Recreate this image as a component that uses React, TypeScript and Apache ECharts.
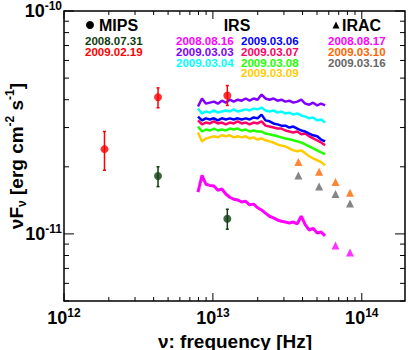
import React, { useEffect, useRef } from "react";
import * as echarts from "echarts";

// ---------- axis ranges ----------
const X_MIN = 1e12;
const X_MAX = 1.95e14;
const Y_MIN = 5e-12;
const Y_MAX = 1e-10;
const UNIT = 1e-11; // flux arrays below are in units of 1e-11 erg cm^-2 s^-1

// ---------- MIPS (frequency in Hz) ----------
const MIPS_FREQ_0731 = [4.28e12, 1.25e13];
const MIPS_FLUX_0731 = [1.82, 1.17];
const MIPS_LO_0731 = [1.63, 1.05];
const MIPS_HI_0731 = [2.0, 1.29];

const MIPS_FREQ_0219 = [1.87e12, 4.28e12, 1.25e13];
const MIPS_FLUX_0219 = [2.4, 4.1, 4.18];
const MIPS_LO_0219 = [1.93, 3.68, 3.77];
const MIPS_HI_0219 = [2.88, 4.52, 4.63];

// ---------- IRAC ----------
const IRAC_FREQ = [3.75e13, 5.17e13, 6.66e13, 8.33e13];
const IRAC_FREQ_0817 = [6.66e13, 8.33e13];
const IRAC_0817 = [0.887, 0.826];
const IRAC_0310 = [2.1, 1.9, 1.71, 1.53];
const IRAC_0316 = [1.83, 1.63, 1.51, 1.37];

// ---------- IRS spectra ----------
const IRS_FREQ = [
  7.94e12, 8.45e12, 8.98e12, 9.55e12, 1.016e13, 1.08e13, 1.148e13, 1.221e13, 1.298e13, 1.38e13,
  1.468e13, 1.561e13, 1.66e13, 1.765e13, 1.877e13, 1.995e13, 2.122e13, 2.256e13, 2.399e13, 2.551e13,
  2.712e13, 2.884e13, 3.067e13, 3.261e13, 3.467e13, 3.687e13, 3.92e13, 4.169e13, 4.433e13, 4.713e13,
  5.012e13, 5.329e13, 5.667e13,
];
const IRS_0816 = [1.54, 1.83, 1.67, 1.65, 1.64, 1.57, 1.59, 1.51, 1.46, 1.43, 1.42, 1.39, 1.4, 1.35, 1.36, 1.31, 1.28, 1.24, 1.2, 1.18, 1.155, 1.14, 1.13, 1.12, 1.13, 1.11, 1.2, 1.1, 1.04, 1.06, 1.01, 1.02, 0.98];
const IRS_0303 = [3.73, 4.05, 3.84, 3.88, 3.92, 3.84, 3.96, 3.88, 4.0, 3.92, 4.0, 3.96, 4.05, 3.96, 4.05, 4.0, 4.22, 4.05, 4.0, 4.05, 3.96, 4.0, 3.92, 3.96, 3.88, 3.92, 4.0, 3.84, 3.8, 3.88, 3.77, 3.84, 3.77];
const IRS_0304 = [3.65, 3.47, 3.54, 3.5, 3.58, 3.5, 3.54, 3.58, 3.54, 3.62, 3.54, 3.58, 3.62, 3.58, 3.65, 3.62, 3.69, 3.58, 3.54, 3.58, 3.5, 3.54, 3.47, 3.5, 3.43, 3.47, 3.4, 3.36, 3.3, 3.33, 3.23, 3.26, 3.16];
const IRS_0306 = [3.36, 3.23, 3.3, 3.26, 3.3, 3.23, 3.3, 3.26, 3.3, 3.26, 3.3, 3.26, 3.3, 3.26, 3.33, 3.3, 3.43, 3.23, 3.2, 3.13, 3.1, 3.06, 3.06, 3.0, 3.03, 2.97, 2.91, 2.88, 2.82, 2.77, 2.74, 2.65, 2.6];
const IRS_0307 = [3.23, 3.1, 3.16, 3.13, 3.2, 3.13, 3.16, 3.1, 3.16, 3.13, 3.2, 3.13, 3.16, 3.1, 3.16, 3.13, 3.2, 3.06, 3.03, 3.0, 2.97, 2.97, 2.91, 2.88, 2.85, 2.88, 2.8, 2.82, 2.74, 2.68, 2.63, 2.57, 2.5];
const IRS_0308 = [3.03, 2.88, 2.94, 2.91, 2.97, 2.91, 2.94, 2.91, 2.97, 2.94, 2.97, 2.91, 2.94, 2.88, 2.91, 2.88, 2.88, 2.82, 2.8, 2.77, 2.74, 2.71, 2.68, 2.66, 2.63, 2.6, 2.57, 2.52, 2.47, 2.42, 2.37, 2.32, 2.28];
const IRS_0309 = [2.85, 2.6, 2.68, 2.71, 2.74, 2.71, 2.77, 2.74, 2.77, 2.71, 2.74, 2.71, 2.74, 2.68, 2.71, 2.65, 2.68, 2.63, 2.6, 2.57, 2.52, 2.49, 2.47, 2.42, 2.37, 2.35, 2.37, 2.3, 2.23, 2.18, 2.14, 2.1, 2.03];

// ---------- colours ----------
const C_DKGREEN = "#0f3d0f";
const C_RED = "#ff0000";
const C_MAGENTA = "#ff00ff";
const C_VIOLET = "#8000ff";
const C_CYAN = "#00ffff";
const C_BLUE = "#0000ff";
const C_CRIMSON = "#ff0066";
const C_GREEN = "#22ff00";
const C_GOLD = "#ffcc00";
const C_ORANGE = "#ff6600";
const C_GRAY = "#666666";

// ---------- legend text ----------
const MIPS_LABELS = ["2008.07.31", "2009.02.19"];
const MIPS_COLORS = [C_DKGREEN, C_RED];
const IRS_LABELS_1 = ["2008.08.16", "2009.03.03", "2009.03.04"];
const IRS_COLORS_1 = [C_MAGENTA, C_VIOLET, C_CYAN];
const IRS_LABELS_2 = ["2009.03.06", "2009.03.07", "2009.03.08", "2009.03.09"];
const IRS_COLORS_2 = [C_BLUE, C_CRIMSON, C_GREEN, C_GOLD];
const IRAC_LABELS = ["2008.08.17", "2009.03.10", "2009.03.16"];
const IRAC_COLORS = [C_MAGENTA, C_ORANGE, C_GRAY];

// ---------- tick values (log axis decoration) ----------
const X_MAJOR = [1e12, 1e13, 1e14];
const Y_MAJOR = [1e-11, 1e-10];
const MINOR_MULT = [2, 3, 4, 5, 6, 7, 8, 9];

const FONT = "Liberation Sans";

const pairs = (xs: number[], ys: number[]) => xs.map((x, i) => [x, ys[i] * UNIT]);
const errs = (xs: number[], lo: number[], hi: number[]) => xs.map((x, i) => [x, lo[i] * UNIT, hi[i] * UNIT]);

export default function App() {
  const ref = useRef<HTMLDivElement>(null);

  useEffect(() => {
    document.body.style.margin = "0";
    const chart = echarts.init(ref.current!, null, { renderer: "svg" });

    const xMinor: number[] = [];
    [1e12, 1e13, 1e14].forEach((d) => MINOR_MULT.forEach((m) => { if (d * m <= X_MAX) xMinor.push(d * m); }));
    const yMinor: number[] = [];
    [1e-12, 1e-11].forEach((d) => MINOR_MULT.forEach((m) => { if (d * m >= Y_MIN && d * m < Y_MAX) yMinor.push(d * m); }));

    const xTickData = [
      ...X_MAJOR.map((v) => [v, Y_MIN, 8]),
      ...xMinor.map((v) => [v, Y_MIN, 4]),
    ];
    const yTickData = [
      ...Y_MAJOR.map((v) => [X_MIN, v, 10]),
      ...yMinor.map((v) => [X_MIN, v, 5]),
    ];

    const labelRich = {
      b: { fontSize: 18, fontWeight: "bold", fontFamily: FONT, color: "#000", lineHeight: 22 },
      s: { fontSize: 12, fontWeight: "bold", fontFamily: FONT, color: "#000", lineHeight: 12, verticalAlign: "top" },
    };
    const powFormatter = (v: number) => {
      const e = Math.log10(v);
      const r = Math.round(e);
      if (Math.abs(e - r) > 0.01) return "";
      return `{b|10}{s|${r}}`;
    };

    const lineSeries = (name: string, data: number[], color: string, width = 2.5) => ({
      name,
      type: "line",
      data: pairs(IRS_FREQ, data),
      showSymbol: false,
      symbol: "none",
      lineStyle: { color, width },
      z: 3,
    });

    const errorSeries = (data: number[][], color: string) => ({
      type: "custom",
      data,
      encode: { x: 0, y: [1, 2] },
      z: 4,
      renderItem: (params: any, api: any) => {
        const x = api.value(0);
        const p1 = api.coord([x, api.value(1)]);
        const p2 = api.coord([x, api.value(2)]);
        const st = { stroke: color, lineWidth: 1.5 };
        return {
          type: "group",
          children: [
            { type: "line", shape: { x1: p1[0], y1: p1[1], x2: p2[0], y2: p2[1] }, style: st },
            { type: "line", shape: { x1: p1[0] - 1.5, y1: p1[1], x2: p1[0] + 1.5, y2: p1[1] }, style: st },
            { type: "line", shape: { x1: p2[0] - 1.5, y1: p2[1], x2: p2[0] + 1.5, y2: p2[1] }, style: st },
          ],
        };
      },
    });

    const legendText = (text: string, x: number, y: number, color: string) => ({
      type: "text",
      x,
      y,
      style: { text, fill: color, font: `bold 11.5px "${FONT}"`, textAlign: "left", textVerticalAlign: "middle" },
    });
    const rowsY = [40.8, 51.8, 62.6, 73.4];
    const legendGraphics: any[] = [];
    MIPS_LABELS.forEach((t, i) => legendGraphics.push(legendText(t, 85, rowsY[i], MIPS_COLORS[i])));
    IRS_LABELS_1.forEach((t, i) => legendGraphics.push(legendText(t, 176, rowsY[i], IRS_COLORS_1[i])));
    IRS_LABELS_2.forEach((t, i) => legendGraphics.push(legendText(t, 241, rowsY[i], IRS_COLORS_2[i])));
    IRAC_LABELS.forEach((t, i) => legendGraphics.push(legendText(t, 328, rowsY[i], IRAC_COLORS[i])));

    const headFont = `bold 16px "${FONT}"`;

    chart.setOption({
      animation: false,
      backgroundColor: "#fff",
      grid: { left: 64, right: 4, top: 10, bottom: 49, show: true, borderColor: "#000", borderWidth: 1.5, backgroundColor: "transparent" },
      xAxis: {
        type: "log",
        logBase: 10,
        min: X_MIN,
        max: X_MAX,
        axisLine: { show: false },
        axisTick: { show: false },
        splitLine: { show: false },
        axisLabel: { formatter: powFormatter, rich: labelRich, margin: 6, showMaxLabel: false },
      },
      yAxis: {
        type: "log",
        logBase: 10,
        min: Y_MIN,
        max: Y_MAX,
        axisLine: { show: false },
        axisTick: { show: false },
        splitLine: { show: false },
        axisLabel: { formatter: powFormatter, rich: labelRich, margin: 2, showMinLabel: false },
      },
      graphic: [
        {
          type: "text",
          x: 235,
          y: 341,
          style: { text: "ν: frequency [Hz]", font: `bold 19px "${FONT}"`, fill: "#000", textAlign: "center", textVerticalAlign: "middle" },
        },
        {
          type: "text",
          x: 16,
          y: 156,
          rotation: Math.PI / 2,
          style: {
            text: "{a|νF}{sub|ν}{a| [erg cm}{sup|-2}{a| s}{sup|-1}{a|]}",
            textAlign: "center",
            textVerticalAlign: "middle",
            rich: {
              a: { fontSize: 19, fontWeight: "bold", fontFamily: FONT, fill: "#000", lineHeight: 24 },
              sub: { fontSize: 12, fontWeight: "bold", fontFamily: FONT, fill: "#000", lineHeight: 14, verticalAlign: "bottom" },
              sup: { fontSize: 12, fontWeight: "bold", fontFamily: FONT, fill: "#000", lineHeight: 14, verticalAlign: "top" },
            },
          },
        },
        { type: "circle", shape: { cx: 90, cy: 25, r: 4 }, style: { fill: "#000" } },
        { type: "text", x: 99, y: 25, style: { text: "MIPS", font: headFont, fill: "#000", textAlign: "left", textVerticalAlign: "middle" } },
        { type: "text", x: 237, y: 25, style: { text: "IRS", font: headFont, fill: "#000", textAlign: "center", textVerticalAlign: "middle" } },
        { type: "polygon", shape: { points: [[332.5, 28.5], [339.5, 28.5], [336, 21.5]] }, style: { fill: "#000" } },
        { type: "text", x: 342, y: 25, style: { text: "IRAC", font: headFont, fill: "#000", textAlign: "left", textVerticalAlign: "middle" } },
        ...legendGraphics,
      ],
      series: [
        // ticks
        {
          type: "custom",
          data: xTickData,
          encode: { x: 0, y: 1 },
          clip: false,
          z: 10,
          silent: true,
          renderItem: (params: any, api: any) => {
            const cs = params.coordSys;
            const px = api.coord([api.value(0), Y_MIN])[0];
            const len = api.value(2);
            const st = { stroke: "#000", lineWidth: 1 };
            return {
              type: "group",
              children: [
                { type: "line", shape: { x1: px, y1: cs.y + cs.height, x2: px, y2: cs.y + cs.height - len }, style: st },
                { type: "line", shape: { x1: px, y1: cs.y, x2: px, y2: cs.y + len }, style: st },
              ],
            };
          },
        },
        {
          type: "custom",
          data: yTickData,
          encode: { x: 0, y: 1 },
          clip: false,
          z: 10,
          silent: true,
          renderItem: (params: any, api: any) => {
            const cs = params.coordSys;
            const py = api.coord([X_MIN, api.value(1)])[1];
            const len = api.value(2);
            const st = { stroke: "#000", lineWidth: 1 };
            return {
              type: "group",
              children: [
                { type: "line", shape: { x1: cs.x, y1: py, x2: cs.x + len, y2: py }, style: st },
                { type: "line", shape: { x1: cs.x + cs.width, y1: py, x2: cs.x + cs.width - len, y2: py }, style: st },
              ],
            };
          },
        },
        // IRS spectra
        lineSeries("IRS 2008.08.16", IRS_0816, C_MAGENTA, 3),
        lineSeries("IRS 2009.03.09", IRS_0309, C_GOLD),
        lineSeries("IRS 2009.03.08", IRS_0308, C_GREEN),
        lineSeries("IRS 2009.03.07", IRS_0307, C_CRIMSON),
        lineSeries("IRS 2009.03.06", IRS_0306, C_BLUE),
        lineSeries("IRS 2009.03.04", IRS_0304, C_CYAN),
        lineSeries("IRS 2009.03.03", IRS_0303, C_VIOLET),
        // MIPS error bars + points
        errorSeries(errs(MIPS_FREQ_0731, MIPS_LO_0731, MIPS_HI_0731), C_DKGREEN),
        errorSeries(errs(MIPS_FREQ_0219, MIPS_LO_0219, MIPS_HI_0219), C_RED),
        {
          name: "MIPS 2008.07.31",
          type: "scatter",
          data: pairs(MIPS_FREQ_0731, MIPS_FLUX_0731),
          symbol: "circle",
          symbolSize: 8,
          itemStyle: { color: C_DKGREEN },
          z: 5,
        },
        {
          name: "MIPS 2009.02.19",
          type: "scatter",
          data: pairs(MIPS_FREQ_0219, MIPS_FLUX_0219),
          symbol: "circle",
          symbolSize: 8,
          itemStyle: { color: C_RED },
          z: 5,
        },
        // IRAC
        {
          name: "IRAC 2008.08.17",
          type: "scatter",
          data: pairs(IRAC_FREQ_0817, IRAC_0817),
          symbol: "triangle",
          symbolSize: 8,
          itemStyle: { color: C_MAGENTA },
          z: 5,
        },
        {
          name: "IRAC 2009.03.10",
          type: "scatter",
          data: pairs(IRAC_FREQ, IRAC_0310),
          symbol: "triangle",
          symbolSize: 8,
          itemStyle: { color: C_ORANGE },
          z: 5,
        },
        {
          name: "IRAC 2009.03.16",
          type: "scatter",
          data: pairs(IRAC_FREQ, IRAC_0316),
          symbol: "triangle",
          symbolSize: 8,
          itemStyle: { color: C_GRAY },
          z: 5,
        },
      ],
    });

    return () => chart.dispose();
  }, []);

  return <div ref={ref} style={{ width: 409, height: 350 }} />;
}
